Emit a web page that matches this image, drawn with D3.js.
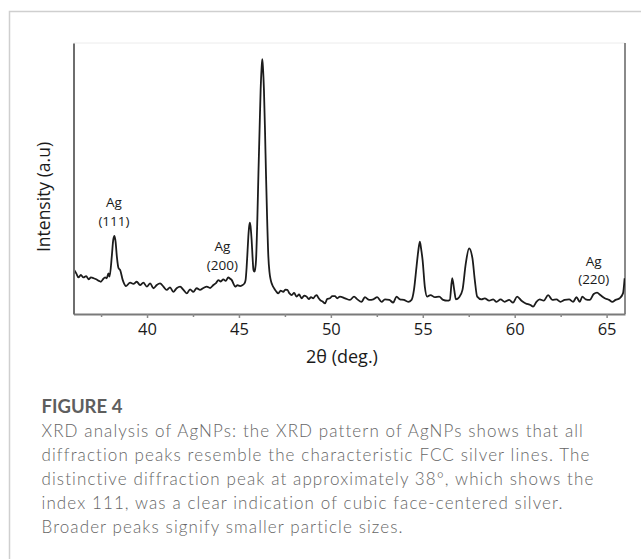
<!DOCTYPE html>
<html>
<head>
<meta charset="utf-8">
<script src="https://cdn.jsdelivr.net/npm/d3@7"></script>
<style>
  html, body { margin: 0; padding: 0; background: #fff; }
  svg { display: block; }
</style>
</head>
<body>
<svg id="fig" width="641" height="559"></svg>
<script>
// XRD pattern of AgNPs: diffraction angle 2θ (deg) and relative intensity (a.u.)
const twoTheta = [
  36.00, 36.15, 36.27, 36.40, 36.54, 36.69, 36.82, 36.95, 37.09, 37.23,
  37.36, 37.49, 37.60, 37.72, 37.81, 37.90, 37.96, 38.09, 38.16, 38.23,
  38.29, 38.36, 38.45, 38.54, 38.68, 38.86, 39.08, 39.26, 39.44, 39.62,
  39.80, 39.99, 40.17, 40.35, 40.53, 40.71, 40.89, 41.07, 41.25, 41.43,
  41.61, 41.80, 41.98, 42.16, 42.34, 42.52, 42.70, 42.88, 43.07, 43.25,
  43.43, 43.61, 43.75, 43.88, 44.01, 44.15, 44.28, 44.42, 44.52, 44.61,
  44.70, 44.79, 44.92, 45.06, 45.18, 45.30, 45.36, 45.42, 45.47, 45.51,
  45.56, 45.60, 45.65, 45.69, 45.74, 45.79, 45.84, 45.88, 45.93, 46.00,
  46.06, 46.12, 46.18, 46.23, 46.27, 46.31, 46.36, 46.42, 46.47, 46.53,
  46.60, 46.66, 46.73, 46.82, 46.91, 47.02, 47.14, 47.27, 47.41, 47.52,
  47.63, 47.75, 47.87, 48.00, 48.14, 48.27, 48.41, 48.55, 48.68, 48.80,
  48.92, 49.04, 49.14, 49.23, 49.32, 49.41, 49.55, 49.68, 49.80, 49.95,
  50.08, 50.22, 50.35, 50.49, 50.77, 51.04, 51.26, 51.44, 51.67, 51.85,
  52.09, 52.31, 52.52, 52.76, 52.94, 53.18, 53.39, 53.57, 53.76, 53.97,
  54.21, 54.39, 54.52, 54.66, 54.75, 54.84, 54.91, 54.99, 55.11, 55.24,
  55.42, 55.66, 55.89, 56.11, 56.33, 56.47, 56.60, 56.71, 56.80, 56.98,
  57.16, 57.34, 57.52, 57.70, 57.83, 57.96, 58.19, 58.37, 58.61, 58.83,
  59.01, 59.23, 59.46, 59.70, 59.91, 60.13, 60.37, 60.60, 60.86, 61.00,
  61.18, 61.36, 61.58, 61.82, 62.05, 62.27, 62.49, 62.72, 62.96, 63.18,
  63.36, 63.54, 63.68, 63.86, 64.08, 64.30, 64.48, 64.66, 64.90, 65.13,
  65.31, 65.49, 65.71, 65.89, 65.98
];
const intensity = [
  16.6, 15.0, 13.5, 14.4, 13.5, 14.0, 12.8, 13.5, 13.2, 12.8,
  12.3, 11.9, 12.8, 13.5, 13.2, 15.0, 13.8, 21.8, 27.3, 28.8,
  26.6, 21.1, 16.9, 16.2, 12.5, 10.3, 11.6, 11.1, 11.9, 10.7,
  11.6, 10.1, 11.3,  9.5, 10.7, 11.3, 10.1,  8.9,  9.8,  8.2,
   9.5, 10.1,  8.9,  7.6,  9.1,  8.2,  9.5,  8.9,  9.6, 10.1,
   9.6, 10.7, 11.4, 12.5, 12.0, 12.8, 12.2, 13.5, 13.0, 12.5,
  11.2, 10.1, 10.6, 10.3, 10.6, 11.3, 12.5, 17.5, 23.5, 28.5,
  32.5, 33.7, 31.0, 27.3, 21.0, 16.2, 15.6, 16.5, 19.9, 35.0,
  51.9, 67.5, 82.7, 90.5, 94.0, 90.5, 82.7, 67.0, 51.9, 36.0,
  21.1, 15.5, 12.5, 10.6,  9.5,  8.4,  7.6,  8.6,  8.2,  9.0,
   8.9,  7.6,  7.0,  7.8,  6.4,  7.2,  5.8,  6.8,  6.4,  5.5,
   6.2,  5.8,  6.6,  7.0,  6.0,  5.2,  4.6,  3.9,  5.5,  5.8,
   6.6,  6.6,  5.8,  6.4,  5.8,  5.2,  6.4,  5.4,  4.5,  6.2,
   5.2,  5.4,  6.2,  4.5,  5.4,  5.2,  4.2,  6.4,  5.4,  5.2,
   4.5,  5.2,  8.9, 17.5, 23.0, 26.7, 24.0, 19.9, 10.1,  6.4,
   7.0,  6.2,  6.4,  5.2,  4.9,  5.2, 13.2,  8.9,  5.4,  6.2,
   8.9, 18.7, 24.2, 20.6, 12.5,  6.4,  5.4,  5.8,  4.9,  5.4,
   4.5,  5.4,  4.5,  5.2,  4.2,  6.4,  4.9,  3.9,  3.3,  2.7,
   4.5,  5.4,  4.9,  7.0,  5.2,  5.4,  4.5,  5.2,  5.4,  4.5,
   6.2,  4.5,  6.4,  5.4,  5.2,  7.4,  7.9,  7.0,  5.8,  5.2,
   4.5,  5.2,  5.8,  7.6, 13.2
];

// Reflection labels and the 2θ position each one sits over
const peakNames = ["Ag", "Ag", "Ag"];
const peakIndices = ["(111)", "(200)", "(220)"];
const peakAngles = [38.2, 44.1, 64.3];
const peakLabelHeights = [32.5, 16.4, 11];

const majorTicks = [40, 45, 50, 55, 60, 65];
const minorTicks = [37.5, 42.5, 47.5, 52.5, 57.5, 62.5];
const xDomain = [36, 66];
const yDomain = [0, 100];

const xTitle = "2θ (deg.)";
const yTitle = "Intensity (a.u)";
const figTitle = "FIGURE 4";
const captionLines = [
  "XRD analysis of AgNPs: the XRD pattern of AgNPs shows that all",
  "diffraction peaks resemble the characteristic FCC silver lines. The",
  "distinctive diffraction peak at approximately 38°, which shows the",
  "index 111, was a clear indication of cubic face-centered silver.",
  "Broader peaks signify smaller particle sizes."
];

const svg = d3.select("#fig");
const chartFont = "'Open Sans', 'Liberation Sans', sans-serif";

// outer figure card
svg.append("rect")
  .attr("x", 9.5).attr("y", 11.5)
  .attr("width", 700).attr("height", 700)
  .attr("fill", "#fff")
  .attr("stroke", "#cfcfcf")
  .attr("stroke-width", 1.5);

const plot = { left: 73.5, right: 625, top: 43, bottom: 314 };

const x = d3.scaleLinear().domain(xDomain).range([plot.left, plot.right]);
const y = d3.scaleLinear().domain(yDomain).range([plot.bottom, plot.top]);

// frame: faint top edge, grey right edge
svg.append("line")
  .attr("x1", plot.left).attr("x2", plot.right)
  .attr("y1", plot.top).attr("y2", plot.top)
  .attr("stroke", "#ececec").attr("stroke-width", 1);
svg.append("line")
  .attr("x1", plot.right).attr("x2", plot.right)
  .attr("y1", plot.top).attr("y2", plot.bottom)
  .attr("stroke", "#8a8a8a").attr("stroke-width", 2);

// data trace
const pts = twoTheta.map((t, i) => [t, intensity[i]]);
svg.append("clipPath").attr("id", "plotClip")
  .append("rect")
  .attr("x", plot.left).attr("y", plot.top)
  .attr("width", plot.right - plot.left).attr("height", plot.bottom - plot.top);

svg.append("path")
  .datum(pts)
  .attr("clip-path", "url(#plotClip)")
  .attr("fill", "none")
  .attr("stroke", "#1c1c1c")
  .attr("stroke-width", 1.8)
  .attr("stroke-linejoin", "round")
  .attr("d", d3.line()
    .x(d => x(d[0]))
    .y(d => y(d[1]))
    .curve(d3.curveMonotoneX));

// x axis with major and minor ticks
const xAxis = svg.append("g")
  .attr("transform", `translate(0,${plot.bottom})`)
  .call(d3.axisBottom(x).tickValues(majorTicks).tickSize(4).tickSizeOuter(0).tickPadding(5)
    .tickFormat(d3.format("d")));
xAxis.select(".domain").attr("stroke", "#7a7a7a").attr("stroke-width", 2);
xAxis.selectAll(".tick line").attr("stroke", "#8a8a8a").attr("stroke-width", 1.5);
xAxis.selectAll(".tick text")
  .attr("font-family", chartFont).attr("font-size", 16.5).attr("fill", "#1a1a1a");

const xMinor = svg.append("g")
  .attr("transform", `translate(0,${plot.bottom})`)
  .call(d3.axisBottom(x).tickValues(minorTicks).tickSize(3).tickSizeOuter(0).tickFormat(""));
xMinor.select(".domain").remove();
xMinor.selectAll(".tick line").attr("stroke", "#8a8a8a").attr("stroke-width", 1.5);

// y axis: bare line, no ticks
const yAxis = svg.append("g")
  .attr("transform", `translate(${plot.left},0)`)
  .call(d3.axisLeft(y).tickValues([]).tickSizeOuter(0));
yAxis.select(".domain").attr("stroke", "#6e6e6e").attr("stroke-width", 2);

// axis titles
svg.append("text")
  .attr("x", 342).attr("y", 363)
  .attr("text-anchor", "middle")
  .attr("font-family", chartFont).attr("font-size", 18).attr("fill", "#1a1a1a")
  .text(xTitle);

svg.append("text")
  .attr("transform", `translate(50,197) rotate(-90)`)
  .attr("text-anchor", "middle")
  .attr("font-family", chartFont).attr("font-size", 17.5).attr("fill", "#1a1a1a")
  .text(yTitle);

// reflection labels: element name above, Miller index below
const lbl = svg.append("g")
  .attr("font-family", chartFont).attr("font-size", 13.5).attr("fill", "#1a1a1a")
  .attr("text-anchor", "middle");
peakAngles.forEach((a, i) => {
  const by = y(peakLabelHeights[i]);
  lbl.append("text").attr("x", x(a)).attr("y", by - 18.5).text(peakNames[i]);
  lbl.append("text").attr("x", x(a)).attr("y", by).text(peakIndices[i]);
});

// caption
const capFont = "Lato, 'Open Sans', sans-serif";
svg.append("text")
  .attr("x", 41.5).attr("y", 412.5)
  .attr("font-family", capFont).attr("font-weight", "bold")
  .attr("font-size", 18.5).attr("fill", "#5e5e5e")
  .text(figTitle);

const cap = svg.append("g")
  .attr("font-family", capFont).attr("font-weight", 300)
  .attr("font-size", 17).attr("fill", "#666");
const capText = cap.selectAll("text")
  .data(captionLines)
  .join("text")
  .attr("x", 41.5)
  .attr("y", (d, i) => 436.5 + i * 24)
  .text(d => d);

// open up the tracking so the widest caption line spans the card's text column
const widest = d3.max(capText.nodes(), n => n.getComputedTextLength());
const longest = d3.max(captionLines, s => s.length);
const track = Math.max(0, (553 - widest) / (longest - 1));
cap.attr("letter-spacing", track.toFixed(2));
</script>
</body>
</html>
